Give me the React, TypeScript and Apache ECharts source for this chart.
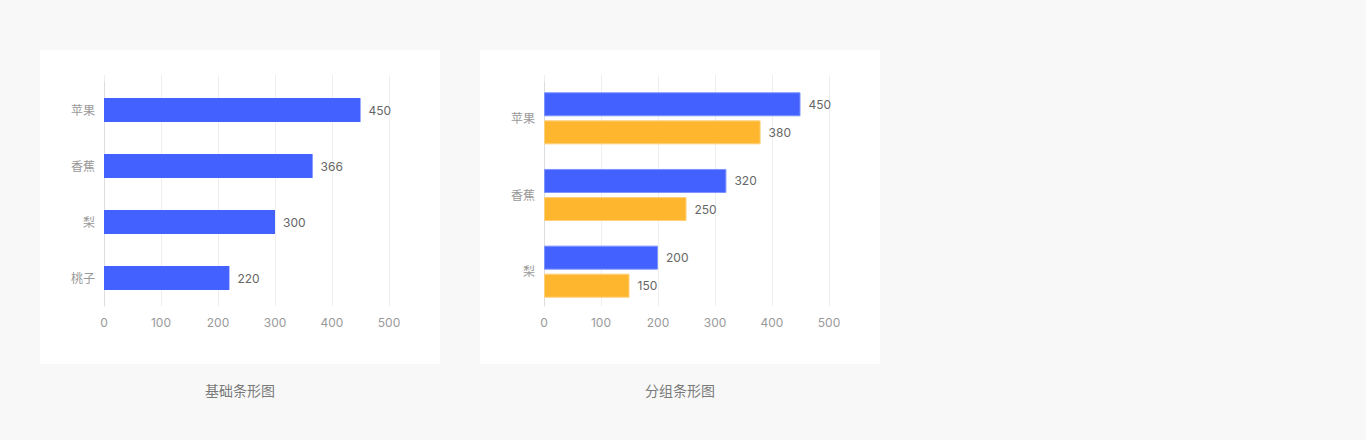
import React, { useRef, useEffect } from 'react';
import * as echarts from 'echarts';

const basicCategories = ['苹果', '香蕉', '梨', '桃子'];
const basicValues = [450, 366, 300, 220];

const groupCategories = ['苹果', '香蕉', '梨'];
const groupSeriesA = [450, 320, 200];
const groupSeriesB = [380, 250, 150];

const valueTicks = [0, 100, 200, 300, 400, 500];
const chartTitles = ['基础条形图', '分组条形图'];

const BLUE = '#4261FF';
const ORANGE = '#FFB62F';
const FONT = "Inter, 'Noto Sans CJK SC', sans-serif";

const valueMax = valueTicks[valueTicks.length - 1];
const valueStep = valueTicks[1] - valueTicks[0];

const App: React.FC = () => {
    const chartRef = useRef<HTMLDivElement>(null);

    useEffect(() => {
        if (!chartRef.current) return;
        const chart = echarts.init(chartRef.current, null, { renderer: 'svg' });

        const bgX = (gridIndex: number) => ({
            type: 'value' as const,
            gridIndex,
            min: 0,
            max: valueMax,
            interval: valueStep,
            axisLine: { show: false },
            axisTick: { show: false },
            axisLabel: { color: '#999', fontSize: 12, margin: 10, fontFamily: FONT },
            splitLine: { show: true, lineStyle: { color: '#eeeeee', width: 1 } }
        });
        const hiddenX = (gridIndex: number) => ({
            type: 'value' as const,
            gridIndex,
            min: 0,
            max: valueMax,
            show: false
        });
        const hiddenY = (gridIndex: number) => ({
            type: 'value' as const,
            gridIndex,
            show: false
        });
        const labelStyle = {
            show: true,
            position: 'right' as const,
            distance: 8,
            color: '#666',
            fontSize: 12,
            fontFamily: FONT
        };

        const option: echarts.EChartsOption = {
            animation: false,
            backgroundColor: '#f8f8f8',
            textStyle: { fontFamily: FONT },
            graphic: [
                { type: 'rect', z: -10, shape: { x: 40, y: 50, width: 400, height: 314 }, style: { fill: '#fff' } },
                { type: 'rect', z: -10, shape: { x: 480, y: 50, width: 400, height: 314 }, style: { fill: '#fff' } },
                {
                    type: 'text', x: 240, y: 390,
                    style: { text: chartTitles[0], fill: '#7a7a7a', fontSize: 14, fontFamily: FONT, align: 'center', verticalAlign: 'middle' }
                },
                {
                    type: 'text', x: 680, y: 390,
                    style: { text: chartTitles[1], fill: '#7a7a7a', fontSize: 14, fontFamily: FONT, align: 'center', verticalAlign: 'middle' }
                }
            ],
            grid: [
                { left: 104, top: 75, width: 285, height: 231 },
                { left: 104, top: 82, width: 285, height: 224 },
                { left: 544, top: 75, width: 285, height: 231 },
                { left: 544, top: 82, width: 285, height: 224 },
                { left: 544, top: 80, width: 285, height: 230 }
            ],
            xAxis: [bgX(0), hiddenX(1), bgX(2), hiddenX(3), hiddenX(4)],
            yAxis: [
                hiddenY(0),
                {
                    type: 'category',
                    gridIndex: 1,
                    inverse: true,
                    data: basicCategories,
                    axisLine: { show: true, lineStyle: { color: '#dddddd' } },
                    axisTick: { show: false },
                    axisLabel: { color: '#999', fontSize: 12, margin: 9, fontFamily: FONT }
                },
                hiddenY(2),
                {
                    type: 'category',
                    gridIndex: 3,
                    inverse: true,
                    data: groupCategories,
                    axisLine: { show: true, lineStyle: { color: '#dddddd' } },
                    axisTick: { show: false },
                    axisLabel: { show: false }
                },
                {
                    type: 'category',
                    gridIndex: 4,
                    inverse: true,
                    data: groupCategories,
                    axisLine: { show: false },
                    axisTick: { show: false },
                    axisLabel: { color: '#999', fontSize: 12, margin: 9, fontFamily: FONT }
                }
            ],
            series: [
                {
                    type: 'bar',
                    xAxisIndex: 1,
                    yAxisIndex: 1,
                    data: basicValues,
                    barWidth: 24,
                    itemStyle: { color: BLUE },
                    label: labelStyle
                },
                {
                    type: 'bar',
                    xAxisIndex: 4,
                    yAxisIndex: 4,
                    data: groupSeriesA,
                    barWidth: 24,
                    barGap: '17%',
                    itemStyle: { color: BLUE, borderColor: '#7d93ff', borderWidth: 1 },
                    label: labelStyle
                },
                {
                    type: 'bar',
                    xAxisIndex: 4,
                    yAxisIndex: 4,
                    data: groupSeriesB,
                    barWidth: 24,
                    barGap: '17%',
                    itemStyle: { color: ORANGE, borderColor: '#ffd07a', borderWidth: 1 },
                    label: labelStyle
                }
            ]
        };

        chart.setOption(option);

        return () => {
            chart.dispose();
        };
    }, []);

    return (
        <div
            ref={chartRef}
            style={{ position: 'fixed', left: 0, top: 0, width: 1366, height: 440 }}
        />
    );
};

export default App;
